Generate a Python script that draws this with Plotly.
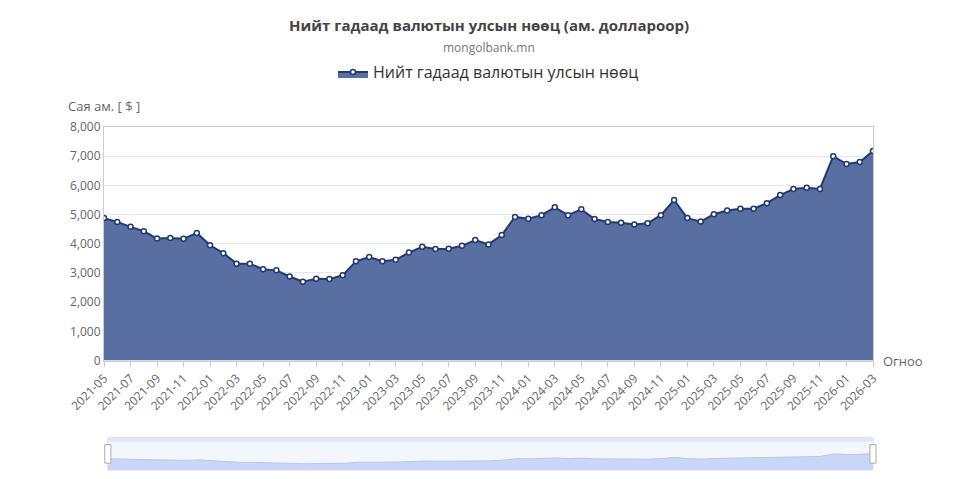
import plotly.graph_objects as go

months = [f"{y}-{m:02d}" for y in range(2021, 2027) for m in range(1, 13)]
months = months[months.index("2021-05"):months.index("2026-03") + 1]

reserves = [4880, 4750, 4580, 4430, 4180, 4200, 4170, 4370,
            3950, 3680, 3320, 3320, 3130, 3090, 2880, 2700, 2800, 2790, 2920, 3400,
            3550, 3400, 3450, 3700, 3900, 3820, 3830, 3930, 4130, 3980, 4300, 4920,
            4860, 4980, 5250, 4980, 5180, 4850, 4750, 4720, 4660, 4700, 4980, 5500,
            4880, 4760, 5010, 5140, 5200, 5200, 5390, 5670, 5880, 5920, 5880, 7000,
            6730, 6800, 7180]

font = "Open Sans"
fig = go.Figure()
fig.add_trace(go.Scatter(
    x=months, y=reserves, name="Нийт гадаад валютын улсын нөөц",
    mode="lines+markers", fill="tozeroy", fillcolor="#5a6fa1",
    line=dict(color="#1d3a7c", width=2),
    marker=dict(size=5, color="white", line=dict(color="#1d3a7c", width=1.5)),
))
# overview strip (data zoom look-alike)
fig.add_trace(go.Scatter(
    x=months, y=reserves, xaxis="x2", yaxis="y2", showlegend=False, hoverinfo="skip",
    mode="lines", fill="tozeroy", fillcolor="#c9d6f5",
    line=dict(color="#b6c7ee", width=1),
))

fig.update_layout(
    width=960, height=479, plot_bgcolor="white", paper_bgcolor="white",
    margin=dict(l=96, r=95, t=119, b=9),
    font=dict(family=font, color="#666", size=12),
    showlegend=True,
    legend=dict(orientation="h", x=0.5, xanchor="center", y=1.16, yanchor="middle",
                font=dict(size=16, color="#333")),
    xaxis=dict(type="category", tickangle=-45, dtick=2, showgrid=False, domain=[0, 1],
               anchor="y", showline=True, linecolor="#ccc", mirror=True, ticks="outside",
               tickcolor="#ccc", tickfont=dict(size=12, color="#666")),
    yaxis=dict(range=[0, 8000], dtick=1000, tickformat=",", gridcolor="#e6e6ee",
               domain=[0.319, 1], showline=True, linecolor="#ccc", mirror=True,
               zeroline=False, tickfont=dict(size=12, color="#666")),
    xaxis2=dict(type="category", anchor="y2", domain=[0.005, 1], visible=False,
                range=[0, len(months) - 1]),
    yaxis2=dict(anchor="x2", domain=[0, 0.094], range=[0, 14000], visible=False),
)
fig.add_shape(type="rect", xref="paper", yref="paper", x0=0.005, x1=1, y0=0, y1=0.094,
              line=dict(color="#d2dbee", width=1), fillcolor="rgba(220,230,250,0.35)",
              layer="below")
fig.add_shape(type="rect", xref="paper", yref="paper", x0=0.005, x1=1, y0=0.082, y1=0.094,
              line=dict(width=0), fillcolor="#dfe7f9")
for xh in (0.005, 1):
    fig.add_shape(type="rect", xref="paper", yref="paper", x0=xh - 0.004, x1=xh + 0.004,
                  y0=0.02, y1=0.074, line=dict(color="#aaa", width=1), fillcolor="white")

ann = [("<b>Нийт гадаад валютын улсын нөөц (ам. доллароор)</b>", 0.5, 1.297, "center", 15, "#444"),
       ("mongolbank.mn", 0.5, 1.231, "center", 12, "#777"),
       ("Сая ам. [ $ ]", -0.05, 1.06, "left", 13, "#666"),
       ("Огноо", 1.01, 0.319, "left", 13, "#666")]
for text, x, y, xa, size, color in ann:
    fig.add_annotation(text=text, xref="paper", yref="paper", x=x, y=y, xanchor=xa,
                       yanchor="middle", showarrow=False, font=dict(size=size, color=color))

fig.write_html("out.html")
